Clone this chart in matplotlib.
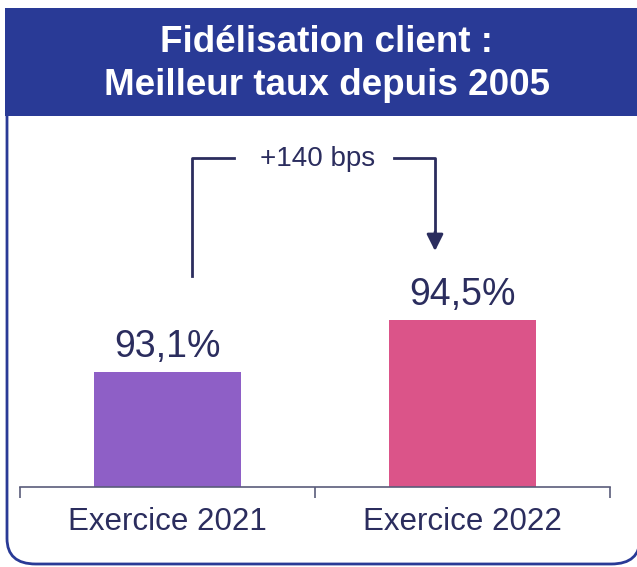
import matplotlib.pyplot as plt
from matplotlib.patches import FancyBboxPatch, Rectangle

plt.rcParams['font.family'] = ['Liberation Sans', 'DejaVu Sans']

categories = ['Exercice 2021', 'Exercice 2022']
values = [93.1, 94.5]
value_labels = ['93,1%', '94,5%']
bar_colors = ['#8E5FC6', '#DB5489']
delta_label = '+140 bps'
title = 'Fidélisation client :\nMeilleur taux depuis 2005'

navy = '#2B2D5E'
header_blue = '#293A96'

W, H = 637, 567
fig = plt.figure(figsize=(W / 100, H / 100), dpi=100)


def px(x, y):
    # pixel coords (top-left origin) -> figure fraction
    return x / W, 1 - y / H


# panel frame with rounded bottom corners (top hidden by header, right edge off canvas)
frame = FancyBboxPatch(px(7, 564), 633 / W, 500 / H,
                       boxstyle='round,pad=0,rounding_size=0.045',
                       transform=fig.transFigure, facecolor='white',
                       edgecolor=header_blue, linewidth=2, zorder=0)
fig.patches.append(frame)
# header band
header = Rectangle(px(5, 116), (W - 5) / W, 108 / H, transform=fig.transFigure,
                   facecolor=header_blue, edgecolor='none', zorder=1)
fig.patches.append(header)
fig.text(0.5 + 8 / W, px(0, 64)[1], title, color='white', fontsize=26.5,
         fontweight='bold', ha='center', va='center', linespacing=1.3,
         zorder=3)

# bar chart
x0, y0 = px(20, 487)
ax = fig.add_axes([x0, y0, 590 / W, 371 / H], zorder=2)
ax.set_facecolor('none')
xs = range(len(categories))
bars = ax.bar(xs, values, width=0.5, color=bar_colors, zorder=2)
ax.set_xlim(-0.5, 1.5)
ax.set_ylim(90, 100)
for b, lab in zip(bars, value_labels):
    ax.annotate(lab, (b.get_x() + b.get_width() / 2, b.get_height()),
                xytext=(0, 5), textcoords='offset points', ha='center',
                va='bottom', fontsize=27, color=navy)

for s in ['top', 'right', 'left']:
    ax.spines[s].set_visible(False)
ax.spines['bottom'].set_color('#5A5C7A')
ax.spines['bottom'].set_linewidth(1.2)
ax.set_yticks([])
ax.set_xticks([-0.5, 0.5, 1.5])
ax.set_xticklabels([])
ax.tick_params(axis='x', length=8, width=1.2, color='#5A5C7A', direction='out')
for i, c in enumerate(categories):
    ax.text(i, -0.095, c, transform=ax.get_xaxis_transform(), ha='center',
            va='center', fontsize=22.5, color=navy)

# bracket arrow
fig.add_artist(plt.Line2D([px(192, 0)[0]] * 2 + [px(234, 0)[0]],
                          [px(0, 276)[1], px(0, 158)[1], px(0, 158)[1]],
                          color=navy, linewidth=2, zorder=3))
fig.add_artist(plt.Line2D([px(394, 0)[0], px(435, 0)[0], px(435, 0)[0]],
                          [px(0, 158)[1], px(0, 158)[1], px(0, 236)[1]],
                          color=navy, linewidth=2, zorder=3))
ax.annotate('', xy=px(435, 251), xycoords='figure fraction',
            xytext=px(435, 232), textcoords='figure fraction',
            arrowprops=dict(arrowstyle='-|>,head_length=1.0,head_width=0.5',
                            color=navy, linewidth=2, shrinkA=0, shrinkB=0),
            annotation_clip=False)
fig.text(*px(318, 159), delta_label, ha='center', va='center', fontsize=20,
         color=navy, zorder=3)

fig.savefig('out.png', dpi=100)
